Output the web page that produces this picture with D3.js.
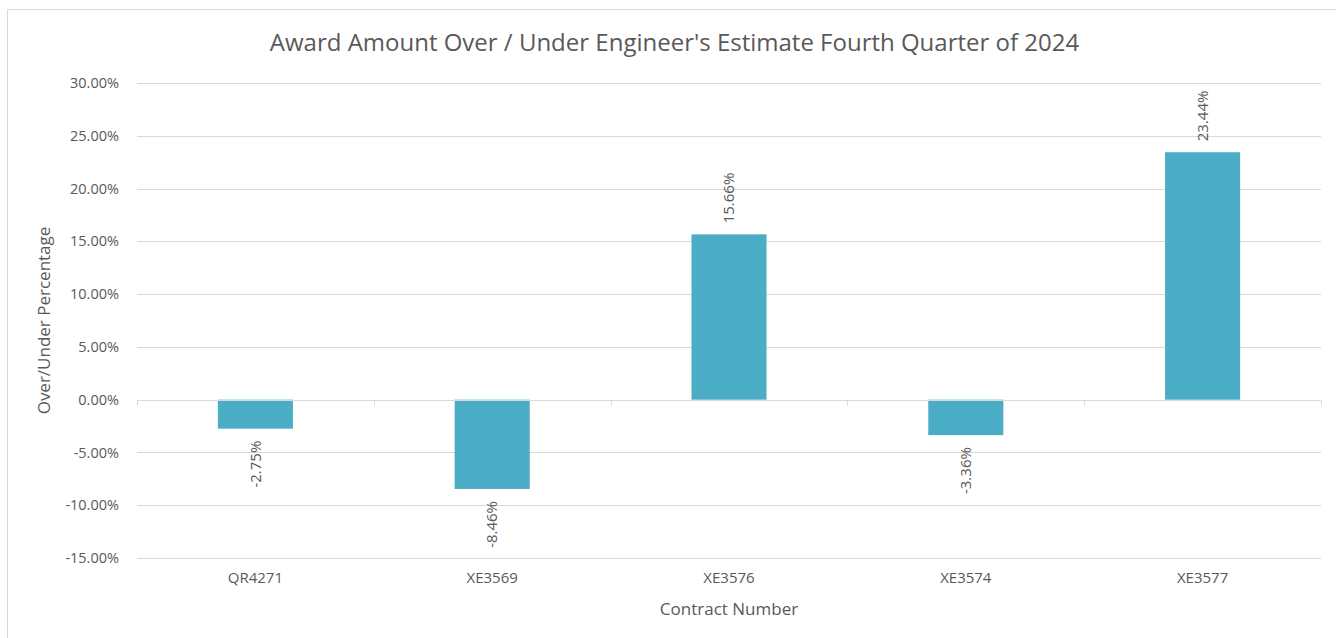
<!DOCTYPE html>
<html>
<head>
<meta charset="utf-8">
<script src="https://cdn.jsdelivr.net/npm/d3@7"></script>
<style>
  body { margin: 0; background: #fff; }
  text { font-family: "Open Sans", sans-serif; fill: #595959; }
</style>
</head>
<body>
<svg id="chart" width="1336" height="638"></svg>
<script>
// data
var contracts = ["QR4271", "XE3569", "XE3576", "XE3574", "XE3577"];
var overUnder = [-2.75, -8.46, 15.66, -3.36, 23.44];
var yTicks = [30, 25, 20, 15, 10, 5, 0, -5, -10, -15];

var svg = d3.select("#chart");
var m = {left: 137, right: 1321, top: 83, bottom: 558};

// outer frame
svg.append("rect")
  .attr("x", 7.5).attr("y", 9.5)
  .attr("width", 1345).attr("height", 640)
  .attr("fill", "#fff").attr("stroke", "#d9d9d9");

var x = d3.scaleBand().domain(contracts).range([m.left, m.right]).paddingInner(0.683).paddingOuter(0.3415);
var xb = d3.scaleBand().domain(contracts).range([m.left, m.right]);
var y = d3.scaleLinear().domain([-15, 30]).range([m.bottom, m.top]);

// gridlines
svg.append("g").selectAll("line").data(yTicks).join("line")
  .attr("x1", m.left).attr("x2", m.right)
  .attr("y1", function(d){ return Math.round(y(d)) + 0.5; })
  .attr("y2", function(d){ return Math.round(y(d)) + 0.5; })
  .attr("stroke", "#d9d9d9").attr("stroke-width", 1);

// y tick labels
svg.append("g").selectAll("text").data(yTicks).join("text")
  .attr("x", 119)
  .attr("y", function(d){ return y(d); })
  .attr("dy", "0.35em")
  .attr("text-anchor", "end")
  .attr("font-size", 14.5)
  .text(function(d){ return d.toFixed(2) + "%"; });

// bars
svg.append("g").selectAll("rect").data(overUnder).join("rect")
  .attr("x", function(d, i){ return x(contracts[i]); })
  .attr("width", x.bandwidth())
  .attr("y", function(d){ return y(Math.max(0, d)); })
  .attr("height", function(d){ return Math.abs(y(d) - y(0)); })
  .attr("fill", "#4bacc6");

// zero axis and ticks
var zy = Math.round(y(0)) + 0.5;
svg.append("line")
  .attr("x1", m.left).attr("x2", m.right)
  .attr("y1", zy).attr("y2", zy)
  .attr("stroke", "#d9d9d9");
var tickX = contracts.map(function(c){ return xb(c); }).concat([m.right]);
svg.append("g").selectAll("line").data(tickX).join("line")
  .attr("x1", function(d){ return Math.round(d) + 0.5; })
  .attr("x2", function(d){ return Math.round(d) + 0.5; })
  .attr("y1", zy).attr("y2", zy + 5)
  .attr("stroke", "#d9d9d9");

// value labels
svg.append("g").selectAll("text").data(overUnder).join("text")
  .attr("transform", function(d, i){
    var cx = x(contracts[i]) + x.bandwidth() / 2;
    var cy = d >= 0 ? y(d) - 11 : y(d) + 12;
    return "translate(" + cx + "," + cy + ") rotate(-90)";
  })
  .attr("dy", "0.35em")
  .attr("text-anchor", function(d){ return d >= 0 ? "start" : "end"; })
  .attr("font-size", 15)
  .text(function(d){ return d.toFixed(2) + "%"; });

// x labels
svg.append("g").selectAll("text").data(contracts).join("text")
  .attr("x", function(c){ return xb(c) + xb.bandwidth() / 2; })
  .attr("y", 578)
  .attr("dy", "0.35em")
  .attr("text-anchor", "middle")
  .attr("font-size", 15)
  .text(function(c){ return c; });

// axis titles
svg.append("text")
  .attr("x", (m.left + m.right) / 2).attr("y", 609)
  .attr("dy", "0.35em")
  .attr("text-anchor", "middle")
  .attr("font-size", 17)
  .text("Contract Number");

svg.append("text")
  .attr("transform", "translate(44," + (m.top + m.bottom) / 2 + ") rotate(-90)")
  .attr("dy", "0.35em")
  .attr("text-anchor", "middle")
  .attr("font-size", 17)
  .text("Over/Under Percentage");

// title
svg.append("text")
  .attr("x", 674.5).attr("y", 43)
  .attr("dy", "0.35em")
  .attr("text-anchor", "middle")
  .attr("font-size", 24)
  .text("Award Amount Over / Under Engineer's Estimate Fourth Quarter of 2024");
</script>
</body>
</html>
